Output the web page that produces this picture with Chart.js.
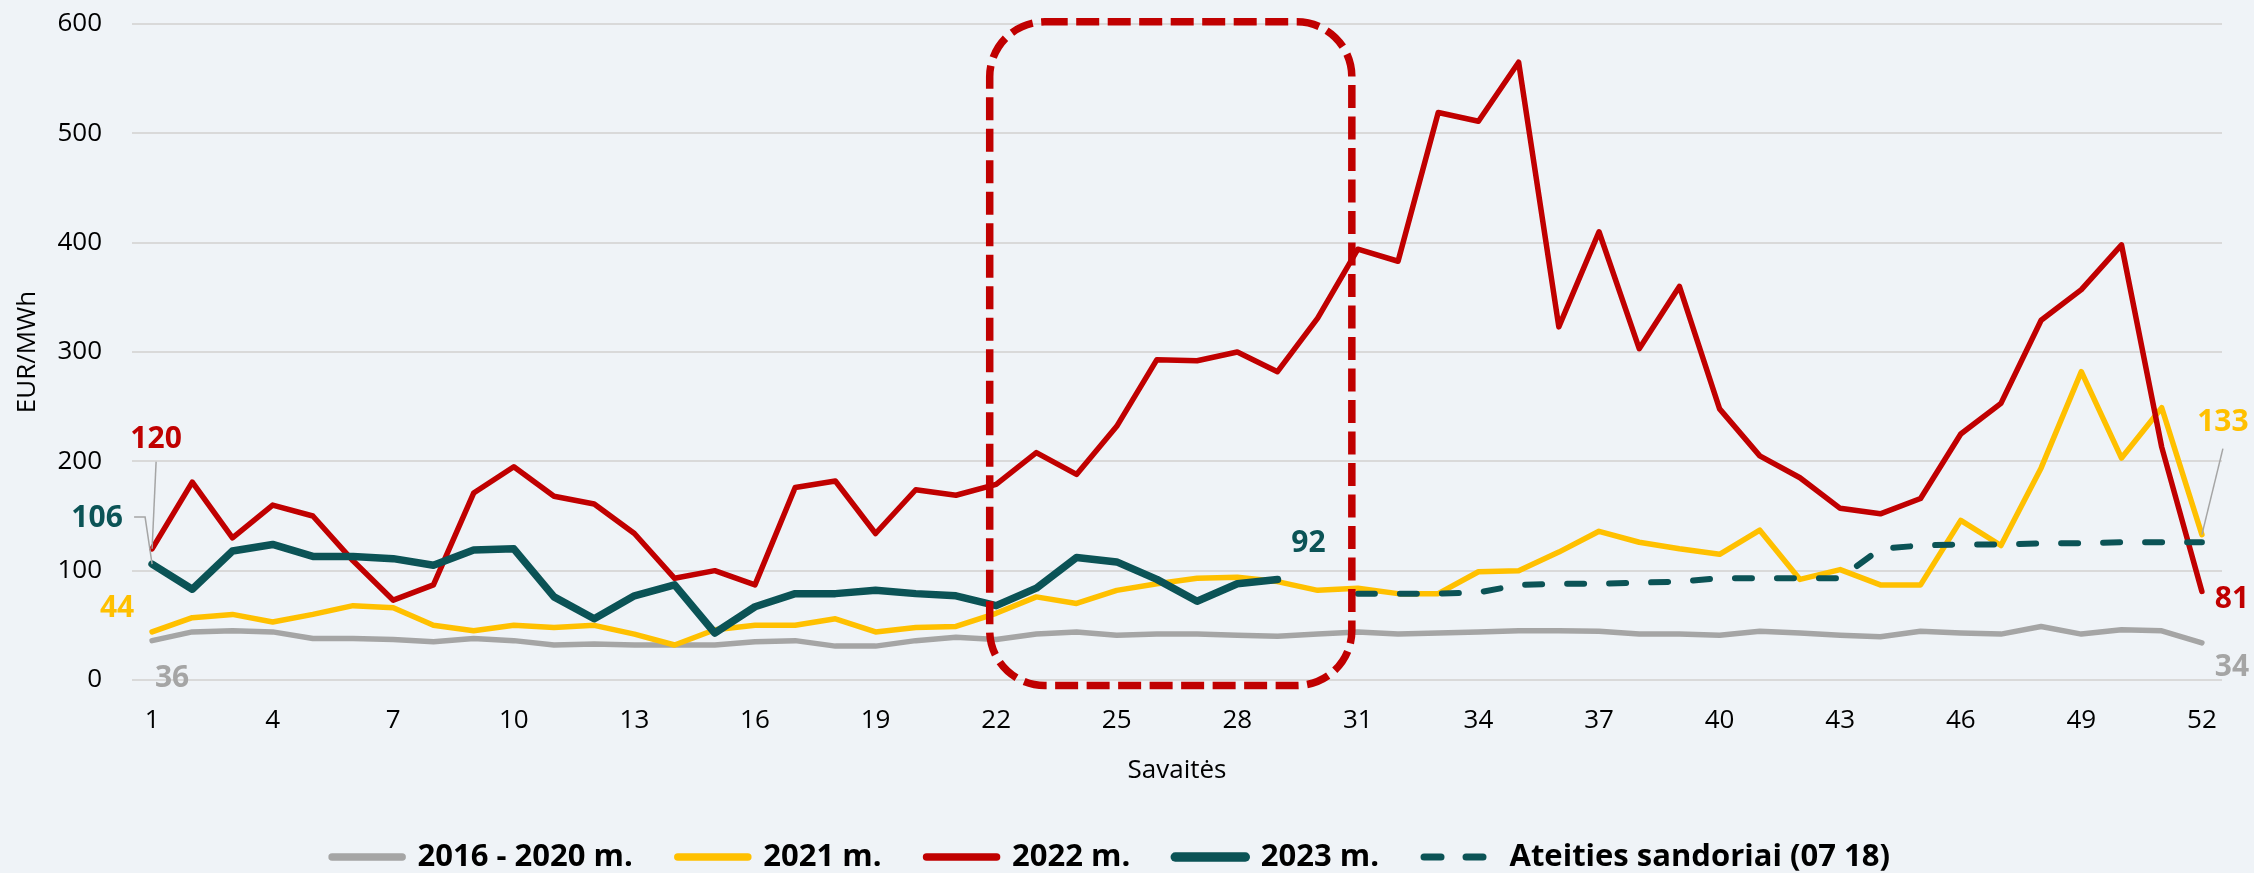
<!DOCTYPE html>
<html lang="lt">
<head>
<meta charset="utf-8">
<title>Elektros kaina pagal savaites</title>
<script src="https://cdn.jsdelivr.net/npm/chart.js@4.4.1/dist/chart.umd.min.js"></script>
<style>
  html, body { margin: 0; padding: 0; background: #EFF3F7; }
  canvas { display: block; }
</style>
</head>
<body>
<canvas id="chart" width="2254" height="873"></canvas>
<script>
// ===============================
// Duomenys
// ===============================
const WEEKS = ["1","2","3","4","5","6","7","8","9","10","11","12","13","14","15","16","17","18","19","20",
  "21","22","23","24","25","26","27","28","29","30","31","32","33","34","35","36","37","38","39","40",
  "41","42","43","44","45","46","47","48","49","50","51","52"];
const TICK_WEEKS = ["1","4","7","10","13","16","19","22","25","28","31","34","37","40","43","46","49","52"];

const AVG_2016_2020 = [36,44,45,44,38,38,37,35,38,36,32,33,32,32,32,35,36,31,31,36,
  39,37,42,44,41,42,42,41,40,42,44,42,43,44,45,45,44.5,42,42,41,
  44.5,43,41,39.5,44.5,43,42,49,42,46,45,34];
const Y2021 = [44,57,60,53,60,68,66,50,45,50,48,50,42,32,46,50,50,56,44,48,
  49,61,76,70,82,88,93,94,90,82,84,79,79,99,100,117,136,126,120,115,
  137,92,101,87,87,146,123,194,282,203,249,133];
const Y2022 = [120,181,130,160,150,109,73,87,171,195,168,161,134,93,100,87,176,182,134,174,
  169,179,208,188,232,293,292,300,282,331,394,383,519,511,565,323,410,303,360,248,
  205,185,157,152,166,225,253,329,357,398,213,81];
const Y2023 = [106,83,118,124,113,113,111,105,119,120,76,56,77,87,43,67,79,79,82,79,
  77,68,84,112,108,92,72,88,92,null,null,null,null,null,null,null,null,null,null,null,
  null,null,null,null,null,null,null,null,null,null,null,null];
const FUTURES = [null,null,null,null,null,null,null,null,null,null,null,null,null,null,null,null,null,null,null,null,
  null,null,null,null,null,null,null,null,null,null,79,79,79,80,87,88,88,89,90,93,
  93,93,93,120,123,124,124,125,125,126,126,126];

const SERIES_NAMES = ["2016 - 2020 m.", "2021 m.", "2022 m.", "2023 m.", "Ateities sandoriai (07 18)"];

// Reikšmių žymės: [serija, savaitė, tekstas]
const POINT_LABELS = [
  [2, 1, "120"], [3, 1, "106"], [1, 1, "44"], [0, 1, "36"],
  [3, 29, "92"], [1, 52, "133"], [2, 52, "81"], [0, 52, "34"]
];

// Pažymėtas laikotarpis (savaitės / EUR/MWh)
const FRAME_WEEKS = [21.84, 30.85];
const FRAME_VALUES = [-5, 602];

// ===============================
// Stilius
// ===============================
const FONT = '"Open Sans", "Noto Sans", sans-serif';
const C = { gray: "#A5A5A5", yellow: "#FFC000", red: "#C00000", teal: "#0B5356" };
const SERIES_COLORS = [C.gray, C.yellow, C.red, C.teal, C.teal];

const LABEL_POS = {
  "120": { dx: 4,   dy: -109, leader: [[0, 22]] },
  "106": { dx: -55, dy: -46,  leader: [[37, -1], [48, -1]] },
  "44":  { dx: -35, dy: -23 },
  "36":  { dx: 20,  dy: 38 },
  "92":  { dx: 31,  dy: -36 },
  "133": { dx: 21,  dy: -112, leader: [[0, 26]] },
  "81":  { dx: 30,  dy: 8 },
  "34":  { dx: 30,  dy: 25 }
};

const overlay = {
  id: "overlay",
  beforeDraw(chart) {
    const ctx = chart.ctx;
    ctx.save();
    ctx.fillStyle = "#EFF3F7";
    ctx.fillRect(0, 0, chart.width, chart.height);
    ctx.restore();
  },
  afterLayout(chart) {
    // legenda šiek tiek žemiau
    if (chart.legend) { chart.legend.top += 9.5; chart.legend.bottom += 9.5; }
  },
  afterDatasetsDraw(chart) {
    const { ctx, scales: { x, y } } = chart;

    // punktyrinis rėmelis
    const x0 = x.getPixelForValue(FRAME_WEEKS[0] - 1);
    const x1 = x.getPixelForValue(FRAME_WEEKS[1] - 1);
    const y0 = y.getPixelForValue(FRAME_VALUES[1]);
    const y1 = y.getPixelForValue(FRAME_VALUES[0]);
    ctx.save();
    ctx.strokeStyle = C.red;
    ctx.lineWidth = 7.5;
    ctx.setLineDash([23, 8.5]);
    ctx.beginPath();
    ctx.roundRect(x0, y0, x1 - x0, y1 - y0, 55);
    ctx.stroke();
    ctx.restore();

    // reikšmių žymės
    ctx.save();
    ctx.font = `bold 30px ${FONT}`;
    ctx.textAlign = "center";
    ctx.textBaseline = "middle";
    for (const [si, week, text] of POINT_LABELS) {
      const pt = chart.getDatasetMeta(si).data[week - 1];
      const pos = LABEL_POS[text];
      const lx = pt.x + pos.dx, ly = pt.y + pos.dy;
      if (pos.leader) {
        ctx.save();
        ctx.strokeStyle = C.gray;
        ctx.lineWidth = 1.5;
        ctx.beginPath();
        pos.leader.forEach(([ax, ay], i) => i ? ctx.lineTo(lx + ax, ly + ay) : ctx.moveTo(lx + ax, ly + ay));
        ctx.lineTo(pt.x, pt.y);
        ctx.stroke();
        ctx.restore();
      }
      ctx.fillStyle = SERIES_COLORS[si];
      ctx.fillText(text, lx, ly);
    }
    ctx.restore();
  }
};

const baseLine = { pointRadius: 0, pointHoverRadius: 0, tension: 0, borderJoinStyle: "round", borderCapStyle: "round", fill: false };

new Chart(document.getElementById("chart"), {
  type: "line",
  data: {
    labels: WEEKS,
    datasets: [
      { ...baseLine, label: SERIES_NAMES[0], data: AVG_2016_2020, borderColor: C.gray,   backgroundColor: C.gray,   borderWidth: 5.5, order: 5 },
      { ...baseLine, label: SERIES_NAMES[1], data: Y2021,         borderColor: C.yellow, backgroundColor: C.yellow, borderWidth: 5.5, order: 4 },
      { ...baseLine, label: SERIES_NAMES[2], data: Y2022,         borderColor: C.red,    backgroundColor: C.red,    borderWidth: 5.5, order: 3 },
      { ...baseLine, label: SERIES_NAMES[3], data: Y2023,         borderColor: C.teal,   backgroundColor: C.teal,   borderWidth: 7.5, order: 2 },
      { ...baseLine, label: SERIES_NAMES[4], data: FUTURES,       borderColor: C.teal,   backgroundColor: C.teal,   borderWidth: 6, borderDash: [17, 25], order: 1 }
    ]
  },
  options: {
    responsive: false,
    animation: false,
    layout: { padding: { top: 24, right: 32, left: 0, bottom: 0 } },
    scales: {
      x: {
        offset: true,
        grid: { display: false, drawTicks: false },
        border: { display: false },
        ticks: {
          autoSkip: false, maxRotation: 0, padding: 25, color: "#000",
          font: { family: FONT, size: 26 },
          callback(v) { const l = this.getLabelForValue(v); return TICK_WEEKS.includes(l) ? l : ""; }
        },
        title: { display: true, text: "Savaitės", color: "#000", font: { family: FONT, size: 26 }, padding: { top: 0, bottom: 1 } },
        afterFit(s) { s.height = 107; }
      },
      y: {
        min: 0, max: 600,
        grid: { color: "#D9D9D9", lineWidth: 2, drawTicks: false },
        border: { display: false },
        ticks: { stepSize: 100, padding: 30, color: "#000", font: { family: FONT, size: 26 } },
        title: { display: true, text: "EUR/MWh", color: "#000", font: { family: FONT, size: 26 }, padding: { top: 12, bottom: 0 } },
        afterFit(s) { s.width = 132; s.paddingTop = 16; s.paddingBottom = 16; }
      }
    },
    plugins: {
      tooltip: { enabled: false },
      legend: {
        position: "bottom",
        labels: {
          usePointStyle: true, pointStyle: "line", pointStyleWidth: 70,
          padding: 45, color: "#000",
          font: { family: FONT, size: 31, weight: "bold" },
          sort: (a, b) => a.datasetIndex - b.datasetIndex,
          generateLabels(chart) {
            const items = Chart.defaults.plugins.legend.labels.generateLabels(chart);
            return items.map(it => {
              const ds = chart.data.datasets[it.datasetIndex];
              return Object.assign(it, {
                strokeStyle: ds.borderColor, fillStyle: ds.borderColor,
                lineWidth: ds.borderDash ? 7 : ds.borderWidth + 2,
                lineDash: ds.borderDash || [], lineCap: "round", pointStyle: "line"
              });
            });
          }
        }
      }
    }
  },
  plugins: [overlay]
});
</script>
</body>
</html>
